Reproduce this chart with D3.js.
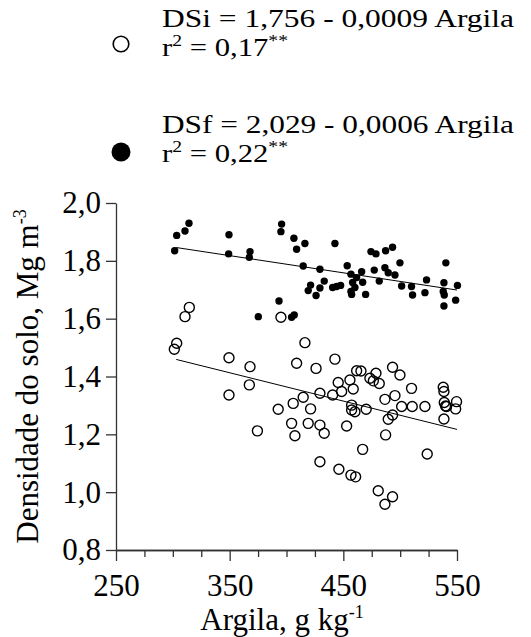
<!DOCTYPE html>
<html>
<head>
<meta charset="utf-8">
<script src="https://cdn.jsdelivr.net/npm/d3@7"></script>
<style>
  body { margin: 0; background: #fff; }
  svg text { font-family: 'Liberation Serif', 'Times New Roman', Times, 'DejaVu Serif', serif; fill: #000; }
</style>
</head>
<body>
<div id="chart"></div>
<script>
// clay (g/kg) and initial soil density DSi (open circles)
var argilaDSi = [314.5, 310.7, 303.4, 301.3, 349.4, 367.9, 367.3, 349.4, 395.1, 408.9,
  392.7, 405.9, 404.5, 374.4, 416.2, 426, 442.6, 461.7, 465.5, 478.7,
  493.3, 499.8, 445.5, 455.8, 458.7, 448.5, 440.6, 429.4, 414.7, 421.2,
  473.4, 476.4, 481.6, 510, 495.4, 486.6, 501.3, 510.6, 521.8, 537.9,
  538.5, 538.8, 540.8, 549.6, 548.8, 538.5, 457.3, 457.3, 460.2, 470.1,
  493.3, 489.5, 419.1, 429.4, 452.9, 407.4, 433.2, 487.2, 467, 523.8,
  429.4, 446.1, 456.7, 460.8, 480.7, 493.3, 486.6, 539.9];
var dsi = [1.639, 1.607, 1.515, 1.494, 1.465, 1.434, 1.371, 1.336, 1.605, 1.446,
  1.287, 1.307, 1.238, 1.212, 1.517, 1.428, 1.460, 1.420, 1.419, 1.411,
  1.432, 1.405, 1.379, 1.388, 1.357, 1.348, 1.336, 1.342, 1.328, 1.288,
  1.394, 1.385, 1.376, 1.359, 1.334, 1.321, 1.296, 1.296, 1.296, 1.363,
  1.348, 1.310, 1.296, 1.313, 1.288, 1.253, 1.301, 1.284, 1.278, 1.287,
  1.267, 1.252, 1.238, 1.232, 1.229, 1.195, 1.204, 1.198, 1.148, 1.132,
  1.105, 1.079, 1.059, 1.053, 1.005, 0.984, 0.958, 1.298];

// clay and final soil density DSf (filled circles)
var argilaDSf = [314.2, 310.7, 303.4, 301.6, 349.4, 349.1, 367.9, 367.3, 395.7, 395.1,
  406.5, 408.9, 393.4, 375.2, 406.8, 404.5, 416.2, 442.6, 414.7, 429.4,
  474.3, 478.7, 487.2, 493.3, 453.4, 456.7, 466.1, 461.7, 477.2, 486.6,
  489.5, 495.4, 499.8, 481.6, 467, 460.2, 458.2, 456.7, 457.3, 469.6,
  433.2, 429.4, 421.2, 419.1, 426, 440.6, 444.1, 447.6, 501.3, 510,
  510.9, 521.8, 523.2, 540.2, 538.5, 537.9, 538.8, 538.5, 548.8, 550.4];
var dsf = [1.930, 1.903, 1.888, 1.835, 1.890, 1.824, 1.832, 1.812, 1.927, 1.901,
  1.878, 1.840, 1.661, 1.607, 1.613, 1.605, 1.860, 1.860, 1.782, 1.771,
  1.832, 1.824, 1.835, 1.847, 1.783, 1.754, 1.762, 1.742, 1.768, 1.776,
  1.759, 1.751, 1.793, 1.730, 1.726, 1.708, 1.725, 1.694, 1.684, 1.684,
  1.730, 1.706, 1.716, 1.697, 1.680, 1.708, 1.711, 1.715, 1.713, 1.711,
  1.682, 1.690, 1.734, 1.793, 1.724, 1.694, 1.682, 1.644, 1.664, 1.715];

// fitted lines as drawn (ends)
var fitX = [303, 550];
var fitDSi = [1.459, 1.217];
var fitDSf = [1.846, 1.699];

var xTicks = [250, 350, 450, 550];
var xMinor = [275, 300, 325, 375, 400, 425, 475, 500, 525];
var yTicks = [0.8, 1.0, 1.2, 1.4, 1.6, 1.8, 2.0];

var serif = "'Liberation Serif', 'Times New Roman', Times, 'DejaVu Serif', serif";

var margin = {top: 203, right: 74, bottom: 87, left: 116},
    width = 531 - margin.left - margin.right,
    height = 637 - margin.top - margin.bottom;

var root = d3.select("#chart")
  .append("svg")
    .attr("width", 531)
    .attr("height", 637)
    .attr("font-family", serif);

var svg = root.append("g")
    .attr("transform", "translate(" + margin.left + "," + margin.top + ")");

var x = d3.scaleLinear()
  .domain([250, 550])
  .range([0, width]);

var y = d3.scaleLinear()
  .domain([0.8, 2.0])
  .range([height, 0]);

var fmt = function(d) { return d3.format(".1f")(d).replace(".", ","); };

// minor x ticks
svg.append("g")
  .attr("class", "axis")
  .attr("transform", "translate(0," + height + ")")
  .call(d3.axisBottom(x).tickValues(xMinor).tickSize(7).tickSizeOuter(0).tickFormat(""));

// X axis
svg.append("g")
  .attr("class", "axis")
  .attr("transform", "translate(0," + height + ")")
  .call(d3.axisBottom(x).tickValues(xTicks).tickSize(11).tickSizeOuter(0).tickPadding(13).tickFormat(d => d));

// Y axis
svg.append("g")
  .attr("class", "axis")
  .call(d3.axisLeft(y).tickValues(yTicks).tickSize(10).tickSizeOuter(0).tickPadding(5).tickFormat(fmt));

svg.selectAll(".axis").attr("font-family", serif).attr("font-size", 31);
svg.selectAll(".axis path, .axis line")
  .attr("stroke", "#333")
  .attr("stroke-width", 1.3);
svg.selectAll(".axis text")
  .style("font-size", "31px")
  .attr("fill", "#000");

// regression lines
var line = d3.line()
  .x(function(d) { return x(d[0]) })
  .y(function(d) { return y(d[1]) });

svg.append("path")
  .datum(d3.zip(fitX, fitDSf))
  .attr("fill", "none")
  .attr("stroke", "#000")
  .attr("stroke-width", 1)
  .attr("d", line);

svg.append("path")
  .datum(d3.zip(fitX, fitDSi))
  .attr("fill", "none")
  .attr("stroke", "#000")
  .attr("stroke-width", 1)
  .attr("d", line);

// points
svg.selectAll(".dsf")
  .data(d3.zip(argilaDSf, dsf))
  .enter().append("circle")
    .attr("class", "dsf")
    .attr("cx", function(d) { return x(d[0]) })
    .attr("cy", function(d) { return y(d[1]) })
    .attr("r", 3.7)
    .attr("fill", "#000");

svg.selectAll(".dsi")
  .data(d3.zip(argilaDSi, dsi))
  .enter().append("circle")
    .attr("class", "dsi")
    .attr("cx", function(d) { return x(d[0]) })
    .attr("cy", function(d) { return y(d[1]) })
    .attr("r", 5)
    .attr("fill", "none")
    .attr("stroke", "#000")
    .attr("stroke-width", 1.4);

// axis titles
root.append("text")
  .attr("x", 282)
  .attr("y", 630)
  .attr("text-anchor", "middle")
  .style("font-size", "31px")
  .text("Argila, g kg")
  .append("tspan")
    .attr("dy", -12)
    .style("font-size", "18px")
    .text("-1");

var yt = root.append("text")
  .attr("transform", "translate(38," + (margin.top + height / 2) + ") rotate(-90)")
  .attr("text-anchor", "middle")
  .style("font-size", "31px")
  .text("Densidade do solo, Mg m");
yt.append("tspan")
  .attr("dy", -12)
  .style("font-size", "18px")
  .text("-3");

// legend
var legend = [
  {sym: "open", cy: 44, eq: "DSi = 1,756 - 0,0009 Argila", r2: "0,17", y1: 27, y2: 56},
  {sym: "filled", cy: 152, eq: "DSf = 2,029 - 0,0006 Argila", r2: "0,22", y1: 133, y2: 162}
];

legend.forEach(function(l) {
  if (l.sym == "open") {
    root.append("circle").attr("cx", 121).attr("cy", l.cy).attr("r", 7.8)
      .attr("fill", "none").attr("stroke", "#000").attr("stroke-width", 1.6);
  } else {
    root.append("circle").attr("cx", 121).attr("cy", l.cy).attr("r", 9.5)
      .attr("fill", "#000");
  }
  root.append("text")
    .attr("x", 162).attr("y", l.y1)
    .attr("textLength", 352)
    .attr("lengthAdjust", "spacingAndGlyphs")
    .style("font-size", "25px")
    .text(l.eq);
  var t = root.append("text")
    .attr("x", 162).attr("y", l.y2)
    .attr("textLength", 126)
    .attr("lengthAdjust", "spacingAndGlyphs")
    .style("font-size", "25px")
    .text("r");
  t.append("tspan").attr("dy", -10).style("font-size", "16px").text("2");
  t.append("tspan").attr("dy", 10).text(" = " + l.r2);
  t.append("tspan").attr("dy", -10).style("font-size", "16px").text("**");
});
</script>
</body>
</html>
